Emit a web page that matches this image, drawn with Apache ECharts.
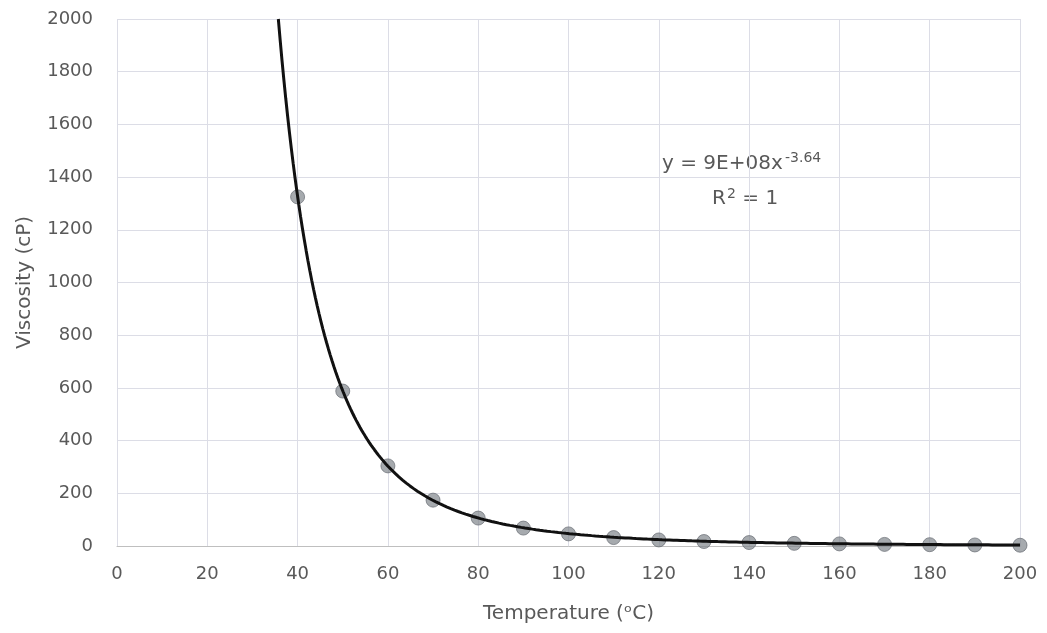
<!DOCTYPE html>
<html>
<head>
<meta charset="utf-8">
<script src="https://cdn.jsdelivr.net/npm/echarts@6/dist/echarts.min.js"></script>
<style>
  html, body { margin: 0; padding: 0; background: #ffffff; }
  #chart { width: 1047px; height: 633px; }
</style>
</head>
<body>
<div id="chart"></div>
<script>
// Measured viscosity at each temperature
const temperatures = [40, 50, 60, 70, 80, 90, 100, 110, 120, 130, 140, 150, 160, 170, 180, 190, 200];
const viscosities = [1325, 588, 304, 174, 106, 68, 46, 32, 23, 17, 13, 10, 8, 6, 5, 4, 3];

// Power trendline y = a * x^b, as stated in the annotation
const trendA = 9e8;
const trendB = -3.64;
const yMax = 2000;

// Sample the trendline from where it enters the plot (y = yMax) to x = 200
const xStart = Math.pow(yMax / trendA, 1 / trendB);
const trendLine = [];
const steps = 400;
for (let i = 0; i <= steps; i++) {
  const x = xStart + (200 - xStart) * i / steps;
  trendLine.push([x, trendA * Math.pow(x, trendB)]);
}

const points = temperatures.map((t, i) => [t, viscosities[i]]);

const font = '"DejaVu Sans", "Noto Sans", sans-serif';
const textColor = '#595959';

function txt(left, top, text, size) {
  return {
    type: 'text', left: left, top: top,
    style: { text: text, fontFamily: font, fontSize: size, fill: textColor, fontWeight: 'normal' }
  };
}

const chart = echarts.init(document.getElementById('chart'));
chart.setOption({
  backgroundColor: '#ffffff',
  animation: false,
  textStyle: { fontFamily: font },
  graphic: [
    // trendline equation and R² annotation
    txt(662, 154, 'y = 9E+08x', 20),
    txt(785, 151, '-3.64', 14),
    txt(712, 189, 'R', 20),
    txt(727, 187, '2', 14),
    txt(736, 189, ' = 1', 20)
  ],
  grid: { left: 117, right: 27, top: 19, bottom: 87, containLabel: false, outerBoundsMode: 'none' },
  xAxis: {
    type: 'value',
    min: 0,
    max: 200,
    interval: 20,
    name: 'Temperature (ᵒC)',
    nameLocation: 'middle',
    nameGap: 58,
    nameTextStyle: { fontFamily: font, fontSize: 20, color: textColor },
    axisLine: { show: true, lineStyle: { color: '#bfbfbf', width: 1 } },
    axisTick: { show: false },
    axisLabel: { fontFamily: font, fontSize: 18, color: textColor, margin: 19 },
    splitLine: { show: true, lineStyle: { color: '#dcdde6', width: 1 } }
  },
  yAxis: {
    type: 'value',
    min: 0,
    max: yMax,
    interval: 200,
    name: 'Viscosity (cP)',
    nameLocation: 'middle',
    nameGap: 82,
    nameTextStyle: { fontFamily: font, fontSize: 20, color: textColor },
    axisLine: { show: false },
    axisTick: { show: false },
    axisLabel: { fontFamily: font, fontSize: 18, color: textColor, margin: 24, formatter: v => String(v) },
    splitLine: { show: true, lineStyle: { color: '#dcdde6', width: 1 } }
  },
  series: [
    {
      name: 'Viscosity',
      type: 'scatter',
      data: points,
      symbol: 'circle',
      symbolSize: 14,
      itemStyle: { color: 'rgba(125,130,137,0.85)', borderColor: 'rgba(105,110,117,0.9)', borderWidth: 1 },
      z: 2
    },
    {
      name: 'Power trendline',
      type: 'line',
      data: trendLine,
      showSymbol: false,
      smooth: false,
      lineStyle: { color: '#111111', width: 3 },
      z: 3
    }
  ]
});
</script>
</body>
</html>
